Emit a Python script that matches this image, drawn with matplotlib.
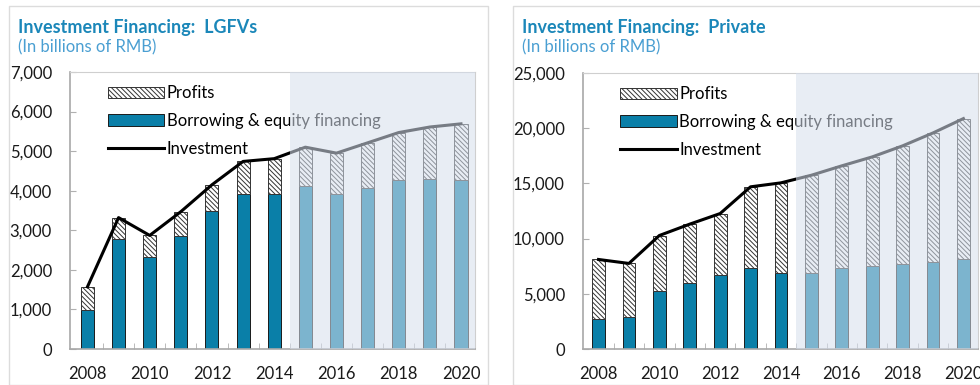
import matplotlib.pyplot as plt
from matplotlib.patches import Patch, Rectangle
from matplotlib.lines import Line2D
from matplotlib.ticker import FuncFormatter

plt.rcParams['font.family'] = ['Lato', 'DejaVu Sans']
plt.rcParams['hatch.linewidth'] = 0.7

years = list(range(2008, 2021))

# LGFVs, billions of RMB
lgfv_borrowing = [985, 2770, 2330, 2850, 3490, 3910, 3910, 4110, 3910, 4070, 4260, 4290, 4260]
lgfv_investment = [1570, 3320, 2870, 3470, 4150, 4740, 4810, 5100, 4950, 5210, 5470, 5610, 5690]

# Private sector, billions of RMB
priv_borrowing = [2680, 2930, 5280, 6000, 6660, 7300, 6910, 6910, 7300, 7510, 7660, 7900, 8110]
priv_investment = [8110, 7750, 10280, 11310, 12270, 14690, 15050, 15740, 16590, 17400, 18400, 19570, 20870]

bar_blue = '#0a7fa8'
title_blue = '#1b87b9'
sub_blue = '#4a9fd2'
proj_start = 2014.5
hatch = '\\' * 7

fig = plt.figure(figsize=(9.8, 3.85), dpi=100)

# light frames round each panel
for x0, w in [(9, 479), (513, 480)]:
    fig.patches.append(Rectangle((x0 / 980, 0.0), w / 980, 1 - 6 / 385,
                                 transform=fig.transFigure, fill=False,
                                 edgecolor='#dcdcdc', linewidth=1.0))


def draw_panel(ax, borrowing, investment, ymax, ystep, xlim):
    profits = [i - b for i, b in zip(investment, borrowing)]
    width = 0.42
    ax.bar(years, borrowing, width, color=bar_blue, edgecolor='#1a1a1a',
           linewidth=0.7, zorder=2)
    ax.bar(years, profits, width, bottom=borrowing, color='white',
           edgecolor='#333333', linewidth=0.7, hatch=hatch, zorder=2)
    ax.plot(years, investment, color='black', linewidth=2.2, zorder=3)

    # projection period overlay
    ax.axvspan(proj_start, xlim[1], color='#d6dfed', alpha=0.56, lw=0, zorder=6)

    ax.set_xlim(*xlim)
    ax.set_ylim(0, ymax)
    ax.set_yticks(range(0, ymax + 1, ystep))
    ax.yaxis.set_major_formatter(FuncFormatter(lambda v, p: f'{int(v):,}'))
    ax.set_xticks(years[::2])
    ax.set_xticks([y + 0.5 for y in years[:-1]], minor=True)
    ax.tick_params(axis='x', which='major', length=0, pad=12,
                   labelsize=12, labelcolor='#1a1a1a')
    ax.tick_params(axis='x', which='minor', direction='in', length=4,
                   color='#b0b0b0')
    ax.tick_params(axis='y', direction='in', length=4, color='#b0b0b0',
                   pad=13, labelsize=12, labelcolor='#1a1a1a')
    for side in ['top', 'right']:
        ax.spines[side].set_color('#cfcfcf')
    for side in ['left', 'bottom']:
        ax.spines[side].set_color('#a8a8a8')
        ax.spines[side].set_linewidth(1.2)

    handles = [
        Patch(facecolor='white', edgecolor='#333333', hatch=hatch, linewidth=0.7),
        Patch(facecolor=bar_blue, edgecolor='#1a1a1a', linewidth=0.7),
        Line2D([0], [0], color='black', linewidth=2.2),
    ]
    labels = ['Profits', 'Borrowing & equity financing', 'Investment']
    leg = ax.legend(handles, labels, loc='upper left', bbox_to_anchor=(0.06, 1.0),
                    frameon=False, fontsize=12, handlelength=3.4,
                    handleheight=0.7, handletextpad=0.15, labelspacing=0.7,
                    borderaxespad=0.4)
    leg.set_zorder(4)


ax1 = fig.add_axes([70 / 980, 1 - 349 / 385, 405 / 980, 277 / 385])
draw_panel(ax1, lgfv_borrowing, lgfv_investment, 7000, 1000, (2007.44, 2020.45))

ax2 = fig.add_axes([583 / 980, 1 - 349 / 385, 395 / 980, 276 / 385])
draw_panel(ax2, priv_borrowing, priv_investment, 25000, 5000, (2007.49, 2020.48))

fig.text(18 / 980, 1 - 27 / 385, 'Investment Financing:  LGFVs', color=title_blue,
         fontsize=13, fontweight='bold', va='center')
fig.text(18 / 980, 1 - 47 / 385, '(In billions of RMB)', color=sub_blue,
         fontsize=12, va='center')
fig.text(522 / 980, 1 - 27 / 385, 'Investment Financing:  Private', color=title_blue,
         fontsize=13, fontweight='bold', va='center')
fig.text(522 / 980, 1 - 47 / 385, '(In billions of RMB)', color=sub_blue,
         fontsize=12, va='center')

fig.savefig('out.png', dpi=100)
